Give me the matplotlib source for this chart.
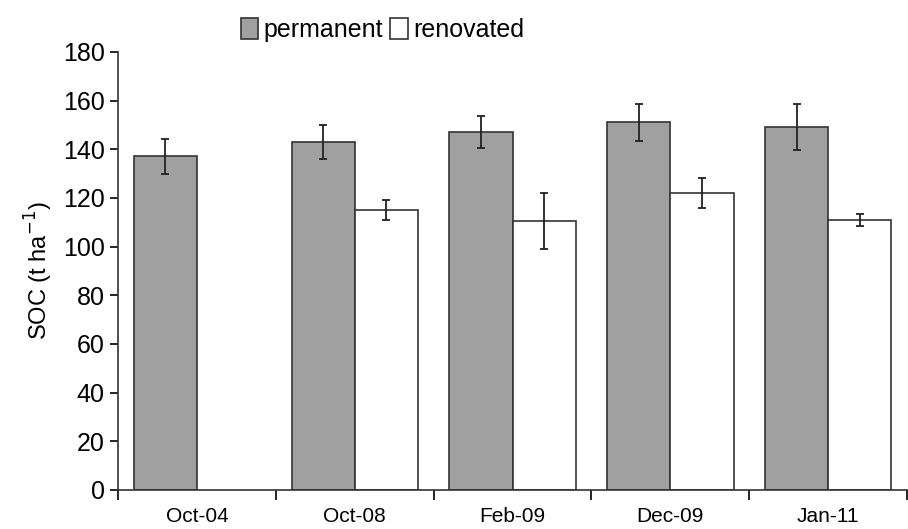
import numpy as np
import matplotlib.pyplot as plt

plt.rcParams['font.family'] = ['Liberation Sans', 'DejaVu Sans']

dates = ['Oct-04', 'Oct-08', 'Feb-09', 'Dec-09', 'Jan-11']
permanent = [137, 143, 147, 151, 149]
permanent_err = [7, 7, 6.5, 7.5, 9.5]
renovated = [np.nan, 115, 110.5, 122, 111]
renovated_err = [np.nan, 4, 11.5, 6, 2.5]

fig = plt.figure(figsize=(9.08, 5.29), dpi=100)
ax = fig.add_axes([0.13, 0.074, 0.869, 0.828])

x = np.arange(len(dates)) + 0.5
w = 0.4
ax.bar(x - w / 2, permanent, w, color='#a0a0a0', edgecolor='#333333',
       linewidth=1.2, label='permanent', zorder=2)
ax.bar(x + w / 2, renovated, w, color='white', edgecolor='#333333',
       linewidth=1.2, label='renovated', zorder=2)
ax.errorbar(x - w / 2, permanent, yerr=permanent_err, fmt='none',
            ecolor='#222222', elinewidth=1.3, capsize=3, capthick=1.3, zorder=3)
ax.errorbar(x + w / 2, renovated, yerr=renovated_err, fmt='none',
            ecolor='#222222', elinewidth=1.3, capsize=3, capthick=1.3, zorder=3)

ax.set_xlim(0, len(dates))
ax.set_ylim(0, 180)
ax.set_yticks(np.arange(0, 181, 20))
ax.set_xticks(np.arange(0, len(dates) + 1))
ax.set_xticklabels([])
ax.set_xticks(x, minor=True)
ax.set_xticklabels(dates, minor=True, fontsize=15)
ax.tick_params(axis='x', which='minor', length=0, pad=12)
ax.tick_params(axis='x', which='major', length=7, width=1.2, direction='out')
ax.tick_params(axis='y', length=6, width=1.2, labelsize=18, direction='out')

for s in ['top', 'right']:
    ax.spines[s].set_visible(False)
for s in ['left', 'bottom']:
    ax.spines[s].set_linewidth(1.2)
    ax.spines[s].set_color('#333333')

ax.set_ylabel('SOC (t ha$^{-1}$)', fontsize=17, labelpad=6)

ax.legend(loc='lower center', bbox_to_anchor=(0.335, 1.0), ncol=2, frameon=False,
          fontsize=18, handlelength=0.7, handleheight=0.9, handletextpad=0.2,
          columnspacing=0.3, borderaxespad=0.0)

fig.savefig('out.png', dpi=100)
